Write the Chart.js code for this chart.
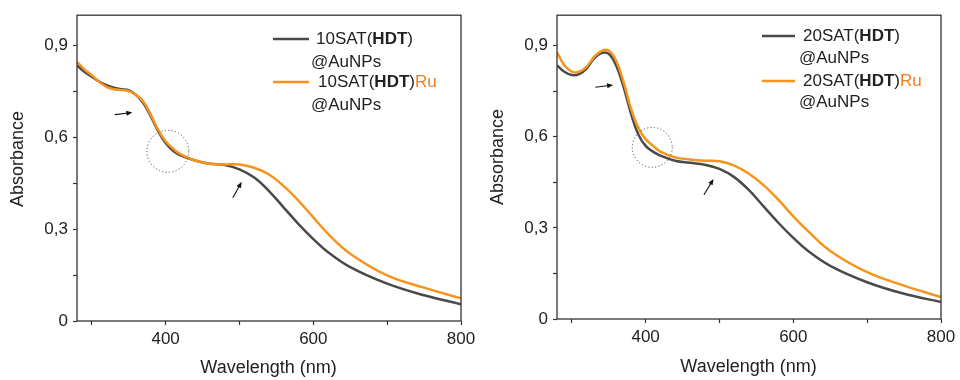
<!DOCTYPE html>
<html>
<head>
<meta charset="utf-8">
<script src="https://cdn.jsdelivr.net/npm/chart.js@4.4.1/dist/chart.umd.min.js"></script>
<style>
html, body { margin: 0; padding: 0; background: #fff; }
.panel { position: absolute; top: 0; width: 480px; height: 380px; }
</style>
</head>
<body>
<div class="panel" style="left:0"><canvas id="left"></canvas></div>
<div class="panel" style="left:480px"><canvas id="right"></canvas></div>
<script>
// wavelength (nm) and absorbance
const wavelength = [280, 290, 300, 310, 320, 330, 340, 350, 360, 370, 380, 390, 400, 410, 420, 440, 460, 480, 500, 520, 540, 560, 580, 600, 620, 650, 700, 750, 800];
const abs10 = [0.836, 0.815, 0.799, 0.783, 0.771, 0.763, 0.758, 0.755, 0.739, 0.712, 0.669, 0.620, 0.582, 0.557, 0.542, 0.525, 0.514, 0.510, 0.496, 0.469, 0.425, 0.371, 0.317, 0.268, 0.225, 0.176, 0.122, 0.084, 0.055];
const abs10Ru = [0.847, 0.823, 0.804, 0.782, 0.766, 0.758, 0.755, 0.752, 0.739, 0.717, 0.674, 0.625, 0.588, 0.564, 0.546, 0.525, 0.514, 0.512, 0.512, 0.501, 0.479, 0.441, 0.393, 0.339, 0.285, 0.220, 0.149, 0.109, 0.074];
const abs20 = [0.835, 0.814, 0.803, 0.806, 0.824, 0.857, 0.875, 0.873, 0.835, 0.765, 0.678, 0.608, 0.570, 0.551, 0.538, 0.521, 0.514, 0.508, 0.494, 0.467, 0.424, 0.370, 0.316, 0.267, 0.224, 0.175, 0.121, 0.083, 0.056];
const abs20Ru = [0.878, 0.835, 0.814, 0.814, 0.830, 0.862, 0.882, 0.884, 0.851, 0.781, 0.694, 0.630, 0.592, 0.570, 0.551, 0.532, 0.525, 0.521, 0.519, 0.505, 0.478, 0.440, 0.392, 0.338, 0.289, 0.224, 0.154, 0.110, 0.072];

const xTicks = [300, 400, 500, 600, 700, 800];
const xTickLabels = { 400: '400', 600: '600', 800: '800' };
const yTicks = [0, 0.15, 0.3, 0.45, 0.6, 0.75, 0.9];
const yTickLabels = { 0: '0', 0.3: '0,3', 0.6: '0,6', 0.9: '0,9' };

const xTitle = 'Wavelength (nm)';
const yTitle = 'Absorbance';

const legend10 = [
  [{ text: '10SAT(' }, { text: 'HDT', bold: true }, { text: ')' }],
  [{ text: '10SAT(' }, { text: 'HDT', bold: true }, { text: ')' }, { text: 'Ru', color: '#f07f22' }]
];
const legend20 = [
  [{ text: '20SAT(' }, { text: 'HDT', bold: true }, { text: ')' }],
  [{ text: '20SAT(' }, { text: 'HDT', bold: true }, { text: ')' }, { text: 'Ru', color: '#f07f22' }]
];
const legendSub = '@AuNPs';

// arrows [x0, y0, x1, y1] and dotted circles [x, y, radiusPx] in data units
const arrows10 = [[331, 0.675, 355, 0.682], [491, 0.403, 503, 0.455]];
const circle10 = [403, 0.555, 21];
const arrows20 = [[332, 0.763, 356, 0.770], [479, 0.409, 492, 0.461]];
const circle20 = [409, 0.565, 20];

const DARK = '#4a4a4a';
const ORANGE = '#f7941d';
const AXIS = '#333';
const FONT = '"Liberation Sans", Arial, sans-serif';

function richText(ctx, segs, x, y) {
  segs.forEach(s => {
    ctx.font = (s.bold ? 'bold ' : '') + '17px ' + FONT;
    ctx.fillStyle = s.color || '#222';
    ctx.fillText(s.text, x, y);
    x += ctx.measureText(s.text).width;
  });
}

function arrow(ctx, x0, y0, x1, y1) {
  const ang = Math.atan2(y1 - y0, x1 - x0);
  ctx.beginPath();
  ctx.moveTo(x0, y0);
  ctx.lineTo(x1 - 4 * Math.cos(ang), y1 - 4 * Math.sin(ang));
  ctx.stroke();
  ctx.beginPath();
  ctx.moveTo(x1, y1);
  ctx.lineTo(x1 - 6 * Math.cos(ang) + 2.5 * Math.sin(ang), y1 - 6 * Math.sin(ang) - 2.5 * Math.cos(ang));
  ctx.lineTo(x1 - 6 * Math.cos(ang) - 2.5 * Math.sin(ang), y1 - 6 * Math.sin(ang) + 2.5 * Math.cos(ang));
  ctx.closePath();
  ctx.fill();
}

const decor = {
  id: 'decor',
  afterDraw(chart, args, o) {
    const { ctx, chartArea: a, scales: { x, y } } = chart;
    ctx.save();
    // frame
    ctx.strokeStyle = AXIS;
    ctx.lineWidth = 1.3;
    ctx.strokeRect(a.left, a.top, a.right - a.left, a.bottom - a.top);

    // axis titles
    ctx.fillStyle = '#222';
    ctx.font = '18px ' + FONT;
    ctx.textAlign = 'center';
    ctx.textBaseline = 'middle';
    ctx.fillText(xTitle, (a.left + a.right) / 2 - 0.5, o.xTitleY);
    ctx.save();
    ctx.translate(18, o.yTitleY);
    ctx.rotate(-Math.PI / 2);
    ctx.fillText(yTitle, 0, 0);
    ctx.restore();

    // arrows
    ctx.strokeStyle = '#111';
    ctx.fillStyle = '#111';
    ctx.lineWidth = 1.1;
    o.arrows.forEach(r => arrow(ctx, x.getPixelForValue(r[0]), y.getPixelForValue(r[1]),
      x.getPixelForValue(r[2]), y.getPixelForValue(r[3])));

    // dotted circle
    ctx.strokeStyle = '#555';
    ctx.lineWidth = 1;
    ctx.setLineDash([1.2, 2.2]);
    ctx.beginPath();
    ctx.arc(x.getPixelForValue(o.circle[0]), y.getPixelForValue(o.circle[1]), o.circle[2], 0, Math.PI * 2);
    ctx.stroke();
    ctx.setLineDash([]);

    // legend
    const L = o.legend;
    ctx.textAlign = 'left';
    ctx.lineWidth = 2.4;
    [DARK, ORANGE].forEach((c, i) => {
      ctx.strokeStyle = c;
      ctx.beginPath();
      ctx.moveTo(L.x0, L.rows[i][0]);
      ctx.lineTo(L.x1, L.rows[i][0]);
      ctx.stroke();
      richText(ctx, o.labels[i], L.tx[i], L.rows[i][0]);
      richText(ctx, [{ text: legendSub }], L.sx, L.rows[i][1]);
    });
    ctx.restore();
  }
};

function makePanel(id, dark, orange, top, opts) {
  return new Chart(document.getElementById(id), {
    type: 'line',
    data: {
      labels: wavelength,
      datasets: [
        { data: orange, borderColor: ORANGE, borderWidth: 2.5, pointRadius: 0, tension: 0.4, order: 0 },
        { data: dark, borderColor: DARK, borderWidth: 2.5, pointRadius: 0, tension: 0.4, order: 1 }
      ]
    },
    options: {
      responsive: false,
      animation: false,
      events: [],
      layout: { padding: { left: 0, right: 19, top: top, bottom: 0 } },
      plugins: { legend: { display: false }, tooltip: { enabled: false }, decor: opts },
      scales: {
        x: {
          type: 'linear', min: 280, max: 800,
          afterBuildTicks: s => { s.ticks = xTicks.map(v => ({ value: v })); },
          afterFit: s => { s.height = 380 - top - 308; },
          border: { display: false },
          grid: { drawOnChartArea: false, tickLength: 4, tickColor: AXIS, tickWidth: 1.2 },
          ticks: { autoSkip: false, maxRotation: 0, padding: 4, color: '#222', font: { family: FONT, size: 17 },
            callback: v => xTickLabels[v] || '' }
        },
        y: {
          min: 0, max: 1,
          afterBuildTicks: s => { s.ticks = yTicks.map(v => ({ value: v })); },
          afterFit: s => { s.width = 77; },
          border: { display: false },
          grid: { drawOnChartArea: false, tickLength: 4, tickColor: AXIS, tickWidth: 1.2 },
          ticks: { padding: 5, color: '#222', font: { family: FONT, size: 17 },
            callback: v => yTickLabels[v] || '' }
        }
      }
    },
    plugins: [decor]
  });
}

['left', 'right'].forEach(id => {
  const c = document.getElementById(id);
  c.width = 480; c.height = 380;
});

makePanel('left', abs10, abs10Ru, 13, {
  arrows: arrows10, circle: circle10, labels: legend10, xTitleY: 368, yTitleY: 159,
  legend: { x0: 273, x1: 309, tx: [316, 318], sx: 311, rows: [[39, 62], [82, 105]] }
});
makePanel('right', abs20, abs20Ru, 11, {
  arrows: arrows20, circle: circle20, labels: legend20, xTitleY: 367, yTitleY: 157,
  legend: { x0: 282, x1: 315, tx: [323, 323], sx: 319, rows: [[36, 58], [81, 102]] }
});
</script>
</body>
</html>
